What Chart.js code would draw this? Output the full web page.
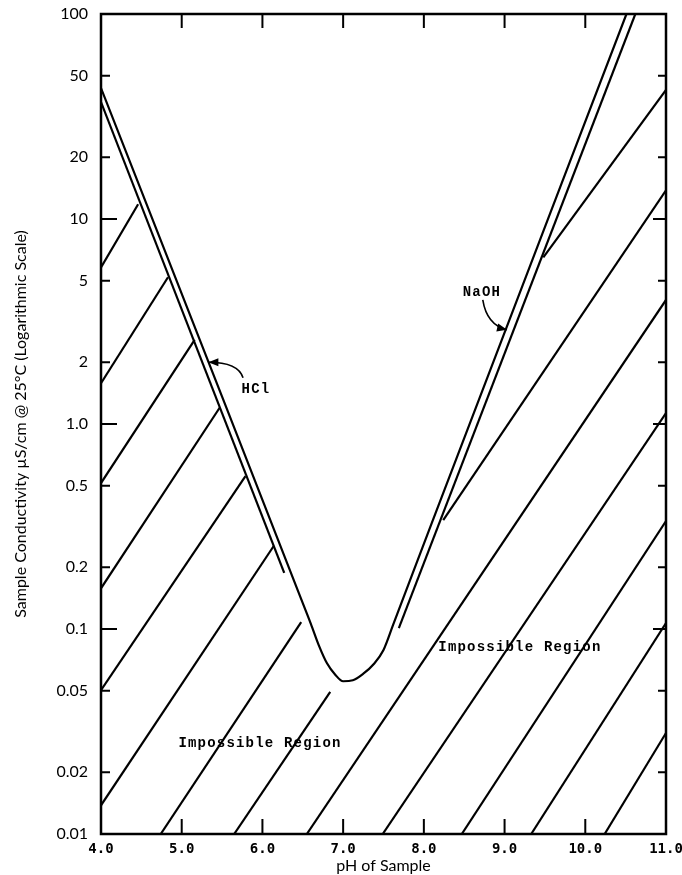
<!DOCTYPE html>
<html>
<head>
<meta charset="utf-8">
<script src="https://cdn.jsdelivr.net/npm/chart.js@4.4.1/dist/chart.umd.min.js"></script>
<style>
  html, body { margin: 0; padding: 0; background: #fff; }
  canvas { display: block; }
</style>
</head>
<body>
<canvas id="chart" width="682" height="875"></canvas>
<script>
const xTickValues = [4, 5, 6, 7, 8, 9, 10, 11];
const xTickLabels = ['4.0', '5.0', '6.0', '7.0', '8.0', '9.0', '10.0', '11.0'];
const yTickValues = [0.01, 0.02, 0.05, 0.1, 0.2, 0.5, 1, 2, 5, 10, 20, 50, 100];
const yTickLabels = ['0.01', '0.02', '0.05', '0.1', '0.2', '0.5', '1.0', '2', '5', '10', '20', '50', '100'];
const yMajor = [0.1, 1, 10];

// boundary of possible region: HCl line -> minimum near pH 7 -> NaOH line
const boundaryPH = [4.0, 5.5, 6.45, 6.6, 6.7, 6.8, 6.9, 7.0, 7.12, 7.25, 7.38, 7.5, 7.62, 8.1, 10.51];
const boundaryCond = [43.5, 1.36, 0.15, 0.106, 0.083, 0.068, 0.06, 0.0556, 0.0562, 0.0605, 0.0675, 0.079, 0.105, 0.33, 100];

// second (shorter) line of each pair
const hclPH = [4.0, 6.27];
const hclCond = [37.2, 0.188];
const naohPH = [7.69, 10.62];
const naohCond = [0.101, 100];

// hatching of the impossible region, one segment per entry
const hatchStartPH = [4.0, 4.0, 4.0, 4.0, 4.0, 4.0, 4.74, 9.48, 5.65, 8.24, 6.55, 7.49, 8.47, 9.33, 10.24];
const hatchStartCond = [5.8, 1.58, 0.515, 0.158, 0.0503, 0.0138, 0.01, 6.5, 0.01, 0.34, 0.01, 0.01, 0.01, 0.01, 0.01];
const hatchEndPH = [4.46, 4.83, 5.16, 5.47, 5.79, 6.14, 6.48, 11.0, 6.84, 11.0, 11.0, 11.0, 11.0, 11.0, 11.0];
const hatchEndCond = [11.8, 5.2, 2.57, 1.2, 0.557, 0.254, 0.108, 42.6, 0.0493, 13.8, 4.03, 1.13, 0.336, 0.107, 0.0311];

const pts = (xs, ys) => xs.map((x, i) => ({ x, y: ys[i] }));

const datasets = [
  { data: pts(boundaryPH, boundaryCond), cubicInterpolationMode: 'monotone' },
  { data: pts(hclPH, hclCond) },
  { data: pts(naohPH, naohCond) },
];
hatchStartPH.forEach((x, i) => {
  datasets.push({ data: pts([x, hatchEndPH[i]], [hatchStartCond[i], hatchEndCond[i]]) });
});
datasets.forEach(d => { d.showLine = true; });

const frame = {
  id: 'frame',
  afterDraw(chart) {
    const { ctx, chartArea: a, scales: { x, y } } = chart;
    ctx.save();
    ctx.strokeStyle = '#000';
    ctx.fillStyle = '#000';
    ctx.lineWidth = 2.5;
    ctx.strokeRect(a.left, a.top, a.right - a.left, a.bottom - a.top);

    ctx.lineWidth = 2;
    ctx.beginPath();
    xTickValues.slice(1, -1).forEach(v => {
      const px = x.getPixelForValue(v);
      ctx.moveTo(px, a.bottom); ctx.lineTo(px, a.bottom - 15);
      ctx.moveTo(px, a.top); ctx.lineTo(px, a.top + 14);
    });
    yTickValues.slice(1, -1).forEach(v => {
      const py = y.getPixelForValue(v);
      const major = yMajor.includes(v);
      ctx.moveTo(a.left, py); ctx.lineTo(a.left + (major ? 16 : 9), py);
      ctx.moveTo(a.right, py); ctx.lineTo(a.right - (major ? 13 : 8), py);
    });
    ctx.stroke();

    const at = (px, c) => [x.getPixelForValue(px), y.getPixelForValue(c)];
    const arrow = (s, c, t) => {
      const [sx, sy] = at(...s), [cx, cy] = at(...c), [tx, ty] = at(...t);
      ctx.lineWidth = 1.6;
      ctx.beginPath();
      ctx.moveTo(sx, sy);
      ctx.quadraticCurveTo(cx, cy, tx, ty);
      ctx.stroke();
      const ang = Math.atan2(ty - cy, tx - cx);
      ctx.beginPath();
      ctx.moveTo(tx, ty);
      ctx.lineTo(tx - 10 * Math.cos(ang) + 4 * Math.sin(ang), ty - 10 * Math.sin(ang) - 4 * Math.cos(ang));
      ctx.lineTo(tx - 10 * Math.cos(ang) - 4 * Math.sin(ang), ty - 10 * Math.sin(ang) + 4 * Math.cos(ang));
      ctx.closePath();
      ctx.fill();
    };
    arrow([5.76, 1.68], [5.70, 2.0], [5.33, 2.0]);
    arrow([8.73, 4.03], [8.78, 3.04], [9.03, 2.88]);

    ctx.font = 'bold 14px "Liberation Mono"';
    ctx.letterSpacing = '1.2px';
    ctx.textAlign = 'center';
    ctx.textBaseline = 'middle';
    const label = (t, px, c) => { const [lx, ly] = at(px, c); ctx.fillText(t, lx, ly); };
    label('HCl', 5.92, 1.48);
    label('NaOH', 8.72, 4.4);
    label('Impossible Region', 5.97, 0.0278);
    label('Impossible Region', 9.19, 0.0817);
    ctx.restore();
  }
};

new Chart(document.getElementById('chart'), {
  type: 'scatter',
  data: { datasets },
  plugins: [frame],
  options: {
    responsive: false,
    animation: false,
    layout: { padding: { top: 14, right: 16, left: 0, bottom: 0 } },
    plugins: {
      legend: { display: false },
      tooltip: { enabled: false },
    },
    elements: {
      point: { radius: 0 },
      line: { borderColor: '#000', borderWidth: 2.2, tension: 0 },
    },
    scales: {
      x: {
        type: 'linear',
        min: 4,
        max: 11,
        grid: { display: false, drawTicks: false },
        border: { display: false },
        afterBuildTicks: s => { s.ticks = xTickValues.map(v => ({ value: v })); },
        afterFit: s => { s.height = 41; s.paddingLeft = 0; s.paddingRight = 0; },
        ticks: {
          autoSkip: false,
          maxRotation: 0,
          padding: 7,
          color: '#000',
          font: { family: 'DejaVu Sans Mono', size: 14, weight: 'bold' },
          callback: (v, i) => xTickLabels[i],
        },
        title: {
          display: true,
          text: 'pH of Sample',
          color: '#000',
          font: { family: 'Lato', size: 16 },
          padding: { top: 0, bottom: 0 },
        },
      },
      y: {
        type: 'logarithmic',
        min: 0.01,
        max: 100,
        grid: { display: false, drawTicks: false },
        border: { display: false },
        afterBuildTicks: s => { s.ticks = yTickValues.map(v => ({ value: v })); },
        afterFit: s => { s.width = 101; s.paddingTop = 0; s.paddingBottom = 0; },
        ticks: {
          autoSkip: false,
          padding: 13,
          color: '#000',
          font: { family: 'Lato', size: 16 },
          callback: (v, i) => yTickLabels[i],
        },
        title: {
          display: true,
          text: 'Sample Conductivity µS/cm @ 25°C (Logarithmic Scale)',
          color: '#000',
          font: { family: 'Lato', size: 16 },
          padding: { top: 11, bottom: 0 },
        },
      },
    },
  },
});
</script>
</body>
</html>
